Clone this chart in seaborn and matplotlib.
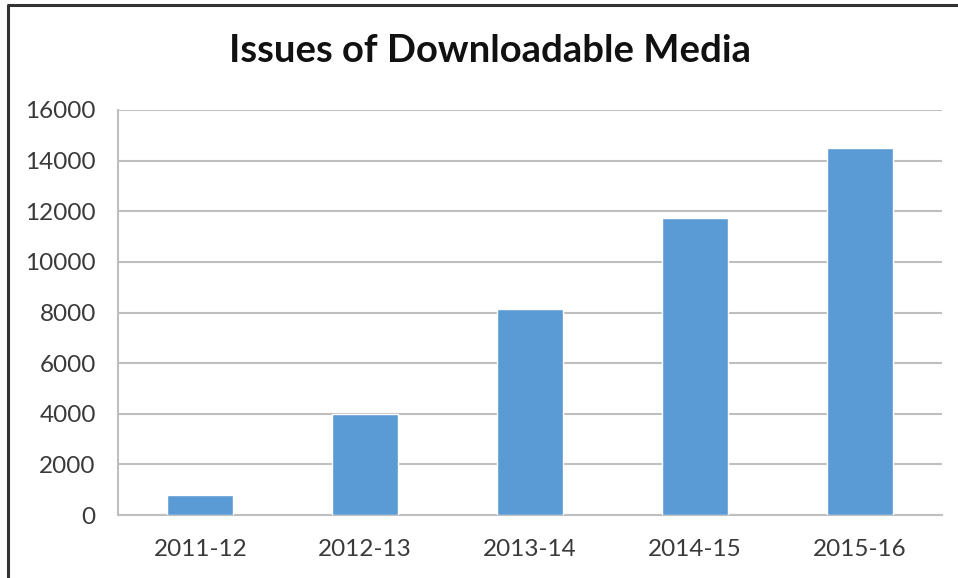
import matplotlib
matplotlib.use("Agg")
import matplotlib.pyplot as plt
from matplotlib.lines import Line2D
import seaborn as sns
import pandas as pd

years = ["2011-12", "2012-13", "2013-14", "2014-15", "2015-16"]
issues = [800, 4000, 8150, 11750, 14500]
y_ticks = [0, 2000, 4000, 6000, 8000, 10000, 12000, 14000, 16000]

sns.set_theme(style="white")
plt.rcParams["font.family"] = ["Lato", "DejaVu Sans"]

df = pd.DataFrame({"year": years, "issues": issues})

fig = plt.figure(figsize=(9.58, 5.78), dpi=100)
ax = fig.add_axes([118 / 958, 63 / 578, 824 / 958, 405 / 578])

sns.barplot(data=df, x="year", y="issues", color="#5B9BD5", saturation=1,
            width=0.4, ax=ax, zorder=3)

ax.set_ylim(0, 16000)
ax.set_yticks(y_ticks)
ax.set_yticklabels([str(t) for t in y_ticks])
ax.set_xlabel("")
ax.set_ylabel("")
ax.grid(axis="y", color="#BFBFBF", linewidth=1.5, zorder=0)
ax.set_axisbelow(True)

for side in ["top", "right"]:
    ax.spines[side].set_visible(False)
for side in ["left", "bottom"]:
    ax.spines[side].set_color("#BFBFBF")
    ax.spines[side].set_linewidth(1.5)

ax.tick_params(axis="both", length=0, labelsize=17.5, labelcolor="#3A3A3A")
ax.tick_params(axis="y", pad=16)
ax.tick_params(axis="x", pad=17)

fig.text(0.511, 0.912, "Issues of Downloadable Media", ha="center", va="center",
         fontsize=27.5, fontweight="bold", color="#111111")

# outer frame running off the right and bottom edges
fig.add_artist(Line2D([8 / 958, 8 / 958, 1.0], [0.0, 1 - 5 / 578, 1 - 5 / 578],
                      transform=fig.transFigure, color="#333333", linewidth=2.2))

fig.savefig("out.png", dpi=100)
